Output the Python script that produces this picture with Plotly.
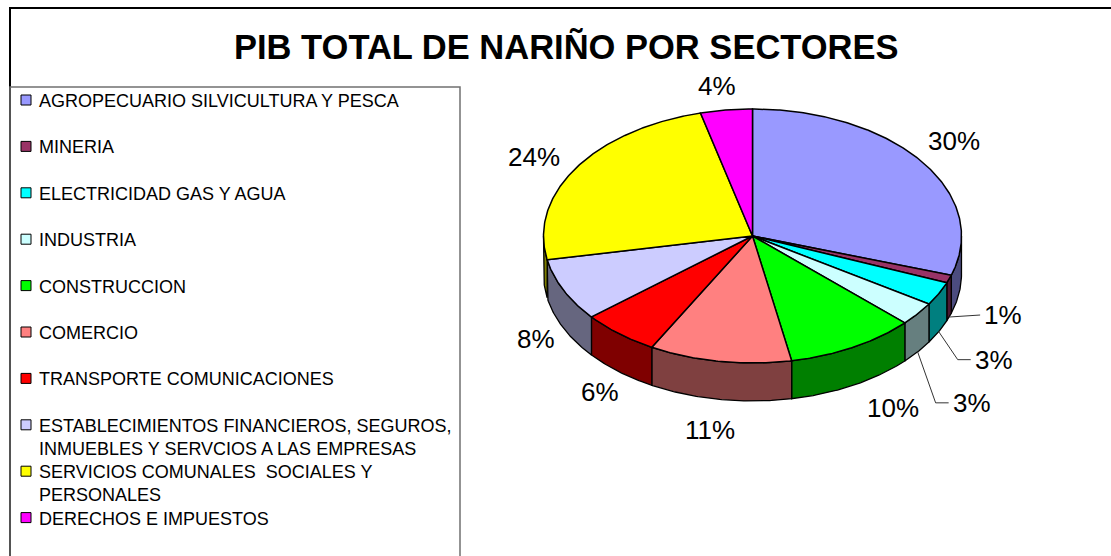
import numpy as np
import plotly.graph_objects as go

# ---------------- data ----------------
categories = [
    "AGROPECUARIO SILVICULTURA Y PESCA",
    "MINERIA",
    "ELECTRICIDAD GAS Y AGUA",
    "INDUSTRIA",
    "CONSTRUCCION",
    "COMERCIO",
    "TRANSPORTE COMUNICACIONES",
    "ESTABLECIMIENTOS FINANCIEROS, SEGUROS,\nINMUEBLES Y SERVCIOS A LAS EMPRESAS",
    "SERVICIOS COMUNALES  SOCIALES Y\nPERSONALES",
    "DERECHOS E IMPUESTOS",
]
values = [30, 1, 3, 3, 10, 11, 6, 8, 24, 4]
title = "PIB TOTAL DE NARIÑO POR SECTORES"

# ---------------- style / layout ----------------
top_colors = ["#9999FF", "#993366", "#00FFFF", "#CCFFFF", "#00FF00",
              "#FF8080", "#FF0000", "#CCCCFF", "#FFFF00", "#FF00FF"]


def darker(hexc, f=0.5):
    h = hexc.lstrip("#")
    r, g, b = (int(h[i:i + 2], 16) for i in (0, 2, 4))
    return "#%02X%02X%02X" % (int(r * f), int(g * f), int(b * f))


side_colors = [darker(c) for c in top_colors]

W, H = 1111, 556
CX, CY, RX, RY, DEPTH = 752.5, 236.0, 209.0, 127.0, 38.0
FONT = "Liberation Sans, Arial, sans-serif"
PCT_SIZE = 26

# leader-line offsets (relative to slice rim point) for small slices
leader_offsets = {
    1: [(31, -2)],
    2: [(19, 28), (32, 28)],
    3: [(18, 51), (31, 51)],
}
# manual nudges of label positions (as placed in the original)
label_nudge = {0: (2, -5), 9: (-6, 2), 8: (-10, 3), 4: (22, 0), 5: (-4, 5)}

total = float(sum(values))
cum = np.concatenate([[0.0], np.cumsum(values)]) / total * 360.0


def pt(theta_deg, dy=0.0, rx=RX, ry=RY):
    t = np.radians(theta_deg)
    return CX + rx * np.sin(t), CY - ry * np.cos(t) + dy


fig = go.Figure()

# side walls (visible front half: 90..270 deg clockwise from top)
for i in range(len(values)):
    a, b = max(cum[i], 90.0), min(cum[i + 1], 270.0)
    if b <= a:
        continue
    th = np.linspace(a, b, max(int((b - a) * 2), 2))
    xt, yt = pt(th)
    xb, yb = pt(th[::-1], DEPTH)
    xs = np.concatenate([xt, xb, xt[:1]])
    ys = np.concatenate([yt, yb, yt[:1]])
    fig.add_trace(go.Scatter(x=xs, y=ys, mode="lines", fill="toself",
                             fillcolor=side_colors[i],
                             line=dict(color="black", width=1.3),
                             hoverinfo="skip", showlegend=False))

# top faces
for i in range(len(values)):
    a, b = cum[i], cum[i + 1]
    th = np.linspace(a, b, max(int((b - a) * 2), 2))
    xa, ya = pt(th)
    xs = np.concatenate([[CX], xa, [CX]])
    ys = np.concatenate([[CY], ya, [CY]])
    fig.add_trace(go.Scatter(x=xs, y=ys, mode="lines", fill="toself",
                             fillcolor=top_colors[i],
                             line=dict(color="black", width=1.5),
                             hoverinfo="skip", showlegend=False,
                             name=categories[i].replace("\n", " ")))

annotations = []
# percentage labels
for i, v in enumerate(values):
    pct = "%d%%" % round(v / total * 100)
    mid = (cum[i] + cum[i + 1]) / 2.0
    s, c = np.sin(np.radians(mid)), np.cos(np.radians(mid))
    dep = DEPTH if c < 0 else 0.0
    if i in leader_offsets:
        x0, y0 = pt(mid, DEPTH)
        xs = [x0] + [x0 + dx for dx, dy in leader_offsets[i]]
        ys = [y0] + [y0 + dy for dx, dy in leader_offsets[i]]
        fig.add_trace(go.Scatter(x=xs, y=ys, mode="lines",
                                 line=dict(color="#333333", width=1),
                                 hoverinfo="skip", showlegend=False))
        annotations.append(dict(x=xs[-1] + 2, y=ys[-1], text=pct,
                                xanchor="left", yanchor="middle",
                                showarrow=False,
                                font=dict(family=FONT, size=PCT_SIZE, color="black")))
    else:
        px, py = pt(mid, dep, RX + 14, RY + 14)
        wlab = 16.0 * len(pct)
        nx, ny = label_nudge.get(i, (0, 0))
        lx = px + (wlab / 2.0) * s + nx
        ly = py - 12.0 * c + ny
        annotations.append(dict(x=lx, y=ly, text=pct, xanchor="center",
                                yanchor="middle", showarrow=False,
                                font=dict(family=FONT, size=PCT_SIZE, color="black")))

# title
annotations.append(dict(x=566, y=47, text="<b>%s</b>" % title, showarrow=False,
                        xanchor="center", yanchor="middle",
                        font=dict(family=FONT, size=34.5, color="black")))

# legend (manual, to reproduce the boxed Excel legend)
LEG_Y0, LEG_STEP = 100.0, 46.4
leg_y = [LEG_Y0 + k * LEG_STEP for k in range(len(categories))]
fig.add_trace(go.Scatter(x=[26] * len(categories), y=leg_y, mode="markers",
                         marker=dict(symbol="square", size=10, color=top_colors,
                                     line=dict(color="black", width=1)),
                         hoverinfo="skip", showlegend=False))
for k, cat in enumerate(categories):
    annotations.append(dict(x=37, y=leg_y[k] - 11, text=cat.replace("\n", "<br>"),
                            xanchor="left", yanchor="top", align="left",
                            showarrow=False,
                            font=dict(family=FONT, size=18, color="black")))

shapes = [
    dict(type="rect", xref="x", yref="y", x0=10, y0=8, x1=1125, y1=570,
         line=dict(color="black", width=2)),
    dict(type="rect", xref="x", yref="y", x0=10, y0=87, x1=460, y1=575,
         line=dict(color="#707070", width=1.5)),
]

fig.update_layout(
    width=W, height=H,
    margin=dict(l=0, r=0, t=0, b=0),
    paper_bgcolor="white", plot_bgcolor="white",
    xaxis=dict(range=[0, W], visible=False, fixedrange=True),
    yaxis=dict(range=[H, 0], visible=False, fixedrange=True),
    annotations=annotations,
    shapes=shapes,
    showlegend=False,
)

fig.write_html("out.html",
               config={"displayModeBar": False},
               post_script="document.body.style.margin='0';document.body.style.overflow='hidden';")
